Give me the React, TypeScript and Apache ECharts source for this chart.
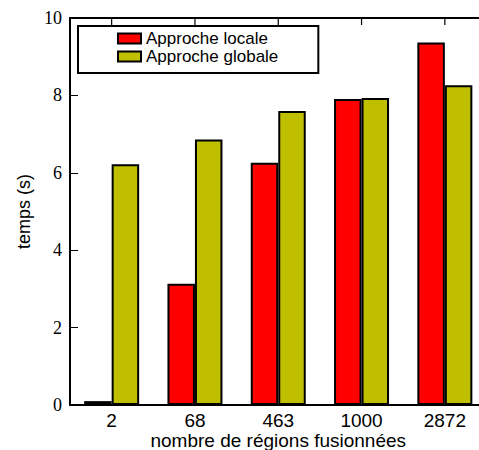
import React, { useEffect, useRef } from "react";
import * as echarts from "echarts";

const categories = ["2", "68", "463", "1000", "2872"];
const locale = [0.1, 3.13, 6.26, 7.91, 9.37];
const globale = [6.22, 6.86, 7.6, 7.93, 8.26];
const yTicks = [0, 2, 4, 6, 8, 10];

const SANS = "'Liberation Sans', Arial, sans-serif";
const SERIF = "'Liberation Serif', 'DejaVu Serif', serif";

export default function App() {
  const ref = useRef<HTMLDivElement>(null);
  useEffect(() => {
    if (!ref.current) return;
    const chart = echarts.init(ref.current, undefined, { renderer: "svg" });
    const yMax = yTicks[yTicks.length - 1];
    chart.setOption({
      animation: false,
      backgroundColor: "#ffffff",
      legend: {
        left: 78,
        top: 26,
        orient: "vertical",
        borderColor: "#000",
        borderWidth: 2,
        padding: [4, 40, 8, 39],
        itemWidth: 23,
        itemHeight: 10,
        itemGap: 1,
        itemTextGap: 8,
        icon: "rect",
        textStyle: { fontSize: 17, fontFamily: SANS, color: "#000", lineHeight: 16 },
        data: ["Approche locale", "Approche globale"],
      },
      grid: {
        left: 70,
        top: 18,
        width: 416.5,
        bottom: 45,
        containLabel: false,
        outerBoundsMode: "none",
      },
      xAxis: [
        {
          type: "category",
          data: categories,
          position: "bottom",
          axisLine: { onZero: false, lineStyle: { color: "#000", width: 2 } },
          axisTick: { inside: true, alignWithLabel: true, length: 7, lineStyle: { color: "#000", width: 1 } },
          axisLabel: { fontSize: 19, lineHeight: 19, fontFamily: SANS, color: "#000", margin: 6 },
          name: "nombre de régions fusionnées",
          nameLocation: "middle",
          nameGap: 26,
          nameMoveOverlap: false,
          nameTextStyle: { fontSize: 19, lineHeight: 19, fontFamily: SANS, color: "#000" },
        },
      ],
      yAxis: {
        type: "value",
        min: yTicks[0],
        max: yMax,
        interval: 2,
        splitLine: { show: false },
        axisLine: { show: true, lineStyle: { color: "#000", width: 2 } },
        axisTick: { show: true, inside: true, length: 8, lineStyle: { color: "#000", width: 1 } },
        axisLabel: { fontSize: 18, fontFamily: SERIF, color: "#000", margin: 8 },
        name: "temps (s)",
        nameLocation: "middle",
        nameGap: 37,
        nameMoveOverlap: false,
        nameTextStyle: { fontSize: 18, fontFamily: SANS, color: "#000" },
      },
      series: [
        {
          name: "Approche locale",
          type: "bar",
          data: locale,
          barWidth: 27.5,
          barGap: "0%",
          itemStyle: { color: "#ff0000", borderColor: "#000", borderWidth: 2 },
          markLine: {
            silent: true,
            symbol: ["none", "none"],
            label: { show: false },
            lineStyle: { color: "#000", width: 2, type: "solid" },
            data: [{ yAxis: yMax }],
          },
        },
        {
          name: "Approche globale",
          type: "bar",
          data: globale,
          barWidth: 27.5,
          barGap: "0%",
          itemStyle: { color: "#bfbf00", borderColor: "#000", borderWidth: 2 },
        },
      ],
    });

    // Top frame (filled strip) and inward ticks at category centres, placed via the chart's own scales
    const yTop = chart.convertToPixel({ yAxisIndex: 0 }, yMax) as number;
    const xFirst = chart.convertToPixel({ xAxisIndex: 0 }, 0) as number;
    const xSecond = chart.convertToPixel({ xAxisIndex: 0 }, 1) as number;
    const band = xSecond - xFirst;
    const gridLeft = xFirst - band / 2;
    const gridRight = gridLeft + band * categories.length;
    const elements: any[] = [
      {
        type: "rect",
        shape: { x: gridLeft - 1, y: yTop - 1, width: gridRight - gridLeft + 1, height: 2 },
        style: { fill: "#000" },
        z: 100,
      },
    ];
    categories.forEach((_, i) => {
      const cx = chart.convertToPixel({ xAxisIndex: 0 }, i) as number;
      elements.push({
        type: "rect",
        shape: { x: cx - 0.6, y: yTop, width: 1.2, height: 7 },
        style: { fill: "#000" },
        z: 100,
      });
    });
    chart.setOption({ graphic: { elements } });

    return () => chart.dispose();
  }, []);
  return (
    <div
      ref={ref}
      style={{ position: "absolute", left: 0, top: 0, width: 479, height: 450 }}
    />
  );
}
